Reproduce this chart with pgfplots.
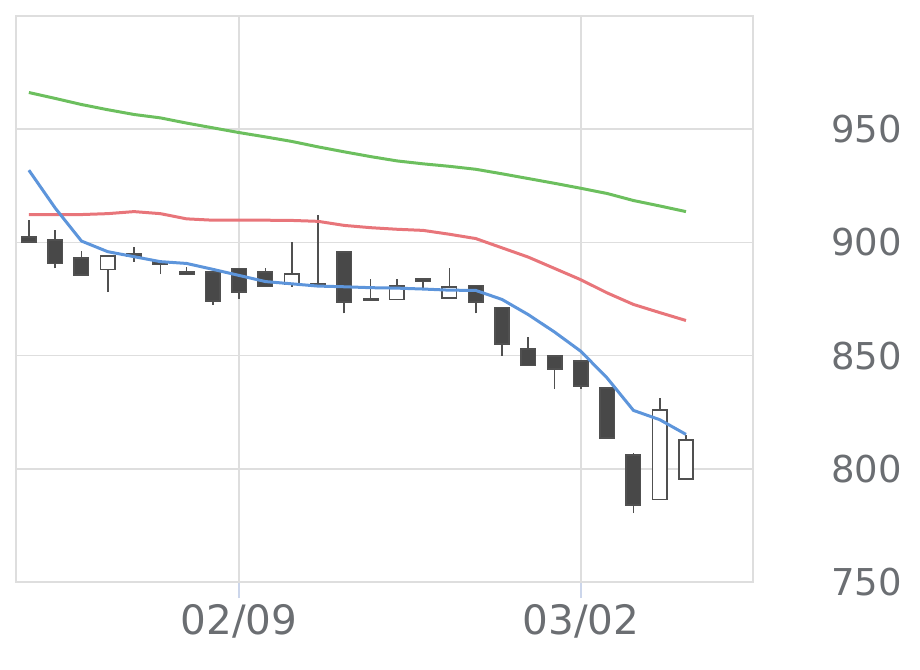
\documentclass[border=0pt]{standalone}
\usepackage{fontspec}
\setmainfont{DejaVu Sans}
\usepackage{pgfplots}
\pgfplotsset{compat=1.18}
\definecolor{gridc}{HTML}{DEDEDE}
\definecolor{tickc}{HTML}{CCD6EB}
\definecolor{labc}{HTML}{6B6E72}
\definecolor{ma1}{HTML}{5D95DB}
\definecolor{ma2}{HTML}{E8757A}
\definecolor{ma3}{HTML}{6CBF5E}
\definecolor{candark}{HTML}{484848}
\definecolor{canedge}{HTML}{505050}
% \body{x left}{x right}{body low}{body high}{style}
\newcommand{\body}[5]{\addplot[#5] coordinates {(#1,#3) (#2,#3) (#2,#4) (#1,#4)} -- cycle;}
\tikzset{dk/.style={draw=canedge, fill=candark, line width=1.6pt},
         hl/.style={draw=canedge, fill=white, line width=1.6pt}}
\begin{document}
\begin{tikzpicture}
\path[use as bounding box] (0,0) rectangle (920pt,669pt);
\begin{axis}[
  at={(16pt,87pt)}, anchor=south west,
  width=737pt, height=566pt, scale only axis,
  xmin=-0.49, xmax=27.55, ymin=750, ymax=1000,
  xtick={8,21}, xticklabels={02/09,03/02},
  ytick={750,800,850,900,950},
  grid=major,
  major grid style={draw=gridc, line width=1.5pt},
  axis line style={draw=gridc, line width=1.5pt},
  tick align=outside, major tick length=16pt,
  xtick pos=bottom, ytick pos=right, yticklabel pos=right,
  xtick style={draw=tickc, line width=1.5pt},
  ytick style={draw=none},
  /pgf/number format/assume math mode=true,
  /pgf/number format/1000 sep={},
  ticklabel style={font=\fontsize{37}{37}\selectfont, text=labc},
  yticklabel style={anchor=west, inner sep=0pt, xshift=62pt},
  xticklabel style={anchor=north, inner sep=0pt, yshift=-6pt, font=\fontsize{40.5}{40.5}\selectfont},
  unbounded coords=jump,
]
% wicks (low, high per session)
\addplot[canedge, line width=1.6pt] coordinates {
(0,900) (0,910) (0,nan)
(1,888.5) (1,905.3) (1,nan)
(2,885.5) (2,896) (2,nan)
(3,878) (3,894.1) (3,nan)
(4,891.5) (4,898) (4,nan)
(5,886) (5,891.8) (5,nan)
(6,885.8) (6,889) (6,nan)
(7,872.4) (7,887) (7,nan)
(8,875.2) (8,888.4) (8,nan)
(9,880.6) (9,888.5) (9,nan)
(10,880.4) (10,900.3) (10,nan)
(11,881) (11,911.9) (11,nan)
(12,868.6) (12,895.7) (12,nan)
(13,874.5) (13,883.9) (13,nan)
(14,874.7) (14,883.9) (14,nan)
(15,879.6) (15,883.8) (15,nan)
(16,875.4) (16,888.5) (16,nan)
(17,868.6) (17,881) (17,nan)
(18,850) (18,871.3) (18,nan)
(19,845.6) (19,858) (19,nan)
(20,835.3) (20,849.9) (20,nan)
(21,835.3) (21,847.5) (21,nan)
(22,813.7) (22,835.8) (22,nan)
(23,780.4) (23,807) (23,nan)
(24,786.4) (24,831.4) (24,nan)
(25,795.5) (25,814.8)};
% bodies (open/close range)
\body{-0.275}{0.275}{900.3}{902.5}{dk}
\body{0.725}{1.275}{890.6}{901}{dk}
\body{1.725}{2.275}{885.5}{893}{dk}
\body{2.725}{3.275}{888}{894.1}{hl}
\body{3.725}{4.275}{893.8}{895}{dk}
\body{4.725}{5.275}{890.3}{891.5}{dk}
\body{5.725}{6.275}{885.8}{886.8}{dk}
\body{6.725}{7.275}{874}{887}{dk}
\body{7.725}{8.275}{878.2}{888.4}{dk}
\body{8.725}{9.275}{880.6}{886.9}{dk}
\body{9.725}{10.275}{881.6}{886}{hl}
\body{10.725}{11.275}{881}{881.7}{dk}
\body{11.725}{12.275}{873.8}{895.7}{dk}
\body{12.725}{13.275}{874.5}{875.2}{dk}
\body{13.725}{14.275}{874.7}{880.8}{hl}
\body{14.725}{15.275}{882.8}{883.8}{dk}
\body{15.725}{16.275}{875.4}{880.3}{hl}
\body{16.725}{17.275}{873.8}{881}{dk}
\body{17.725}{18.275}{855.1}{871.3}{dk}
\body{18.725}{19.275}{845.6}{852.8}{dk}
\body{19.725}{20.275}{844.2}{849.9}{dk}
\body{20.725}{21.275}{836.6}{847.5}{dk}
\body{21.725}{22.275}{813.7}{835.8}{dk}
\body{22.725}{23.275}{784.1}{806.2}{dk}
\body{23.725}{24.275}{786.4}{826}{hl}
\body{24.725}{25.275}{795.5}{812.7}{hl}
% moving averages
\addplot[ma3, line width=3pt, line join=round] coordinates {
(0,966.2) (1,963.6) (2,960.9) (3,958.6) (4,956.5) (5,955) (6,952.7) (7,950.6)
(8,948.5) (9,946.6) (10,944.6) (11,942.2) (12,940) (13,937.9) (14,936) (15,934.7)
(16,933.6) (17,932.3) (18,930.3) (19,928.2) (20,926.1) (21,923.9) (22,921.6)
(23,918.5) (24,916.1) (25,913.6)};
\addplot[ma2, line width=3pt, line join=round] coordinates {
(0,912.3) (1,912.3) (2,912.3) (3,912.7) (4,913.6) (5,912.7) (6,910.4) (7,909.8)
(8,909.8) (9,909.8) (10,909.7) (11,909.3) (12,907.5) (13,906.5) (14,905.8) (15,905.3)
(16,903.6) (17,901.7) (18,897.6) (19,893.5) (20,888.5) (21,883.5) (22,877.7)
(23,872.6) (24,869) (25,865.5)};
\addplot[ma1, line width=3pt, line join=round] coordinates {
(0,931.9) (1,915.2) (2,900.6) (3,895.9) (4,893.7) (5,891.5) (6,890.7) (7,888.1)
(8,885.4) (9,882.7) (10,881.7) (11,880.7) (12,880.4) (13,880) (14,879.8) (15,879.4)
(16,878.9) (17,878.8) (18,874.8) (19,868.1) (20,860.4) (21,851.9) (22,840.1)
(23,825.8) (24,821.7) (25,815.2)};
\end{axis}
\end{tikzpicture}
\end{document}
